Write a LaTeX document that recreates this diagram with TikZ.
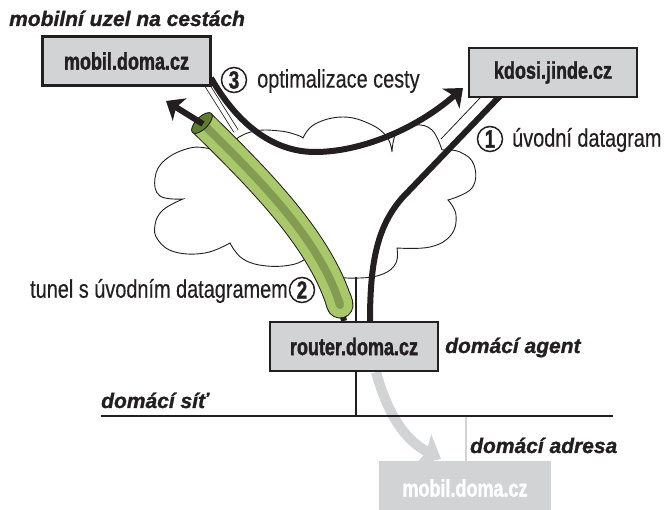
\documentclass[tikz,border=0pt]{standalone}
\usepackage{fontspec}
\usetikzlibrary{arrows.meta}
\setmainfont{Liberation Sans}
\newfontfamily\condfont{Liberation Sans}[FakeStretch=0.78,FakeBold=0.3]
\newfontfamily\heavyfont{Liberation Sans}[FakeStretch=0.75,FakeBold=1.5]
\newfontfamily\titlefont{Liberation Sans}[FakeBold=1.2]
\definecolor{boxgray}{HTML}{D1D3D4}
\definecolor{ink}{HTML}{231F20}
\definecolor{tubelight}{HTML}{A8C86A}
\definecolor{tubedark}{HTML}{839C52}
\definecolor{tubehole}{HTML}{5E7F2A}
\tikzset{
  hostbox/.style={draw=ink, line width=2.2, fill=boxgray, minimum width=168, minimum height=49, inner sep=0, text=ink, font=\heavyfont\bfseries\fontsize{24}{24}\selectfont},
  ghostbox/.style={fill=boxgray, minimum width=172, minimum height=54, inner sep=0, text=white, font=\heavyfont\bfseries\fontsize{24}{24}\selectfont},
  titletext/.style={font=\titlefont\bfseries\itshape\fontsize{21}{21}\selectfont, text=ink, inner sep=0, anchor=base west},
  lbl/.style={font=\condfont\fontsize{25.5}{25.5}\selectfont, text=ink, inner sep=0},
  numc/.style={circle, draw=ink, line width=1.5, minimum size=25, inner sep=0, font=\heavyfont\bfseries\fontsize{25}{25}\selectfont, text=ink},
  thickline/.style={draw=ink, line width=6},
  thinline/.style={draw=ink, line width=0.8},
  cloudline/.style={draw=ink, line width=0.9, fill=white},
  bigarrow/.style={-{Stealth[length=16pt, width=26pt, inset=4pt]}},
}
\begin{document}
\begin{tikzpicture}[x=1pt,y=-1pt]
\useasboundingbox (0,0) rectangle (664,510);

% cloud
\draw[cloudline]
  plot[smooth, tension=0.7] coordinates {(183,199) (160,196) (155,178) (165,160) (190,148) (212,149) (228,153)}
  -- plot[smooth, tension=0.7] coordinates {(228,153) (235,140) (255,131) (280,131) (297,135) (303,138)}
  -- plot[smooth, tension=0.7] coordinates {(303,138) (315,124) (343,117) (370,124) (387,137) (392,152)}
  -- plot[smooth, tension=0.7] coordinates {(392,152) (397,132) (415,125) (432,130) (442,150)}
  -- plot[smooth, tension=0.7] coordinates {(442,150) (460,152) (474,165) (472,188) (448,200)}
  -- plot[smooth, tension=0.7] coordinates {(448,200) (456,215) (451,235) (430,247) (397,248)}
  -- plot[smooth, tension=0.7] coordinates {(397,248) (396,263) (383,274) (360,278) (335,276) (318,266) (310,255)}
  -- plot[smooth, tension=0.7] coordinates {(310,255) (295,264) (267,266) (243,259) (230,243)}
  -- plot[smooth, tension=0.7] coordinates {(230,243) (205,253) (175,252) (158,240) (155,225) (163,210) (183,199)}
  -- cycle;

% hosts
\node[hostbox] (mobil) at (126.5,61) {mobil.doma.cz};
\node[hostbox] (kdosi) at (553,72.5) {kdosi.jinde.cz};
\node[hostbox] (router) at (354,346.5) {router.doma.cz};

% attachment coordinates
\coordinate (mlinkA) at (207,85);
\coordinate (mlinkB) at (236,131);
\coordinate (klinkA) at (480,98);
\coordinate (klinkB) at (441,139);
\coordinate (rcloud) at (356,277);
\coordinate (netL) at (101,416);
\coordinate (netR) at (613,416);
\coordinate (netR1) at (356,416);
\coordinate (netG) at (466,417);

% gray arrow to ghost
\node[ghostbox] (ghost) at (465,488) {mobil.doma.cz};
\draw[boxgray, line width=1.5] (netG) -- (466,0 |- ghost.north);
\draw[boxgray, line width=10, -{Stealth[length=20pt, width=34pt, inset=4pt]}]
  (376,0 |- router.south) .. controls (388,415) and (405,440) .. (441,459);

% links
\draw[thinline, double=white, double distance=4] (mlinkA) -- (mlinkB);
\draw[thinline] (klinkA) -- (klinkB);
\draw[ink, line width=1.3] (rcloud) -- (356,0 |- router.north);
\draw[ink, line width=1.5] (356,0 |- router.south) -- (netR1);
\draw[ink, line width=2.2] (netL) -- (netR);

% path 1
\draw[thickline] (370,0 |- router.north) .. controls (370,260) and (378,225) .. (403,197) -- (500,96);

% path 2: tunnel
\draw[thickline] (344,0 |- router.north) -- (339,300);
\draw[ink, line width=27] (202,123) .. controls (260,180) and (320,240) .. (340,305);
\draw[ink, line width=27, line cap=round] (338.5,300) -- (340,305);
\draw[tubelight, line width=25] (202,123) .. controls (260,180) and (320,240) .. (340,305);
\draw[tubelight, line width=25, line cap=round] (338.5,300) -- (340,305);
\draw[tubedark, line width=8] (202,123) .. controls (260,180) and (320,240) .. (340,305);
\draw[tubedark, line width=8, line cap=round] (338.5,300) -- (340,305);
\draw[draw=ink, line width=0.9, fill=tubehole, shift={(202,123)}, rotate=45] (0,0) ellipse (13.5 and 6);
\draw[thickline, bigarrow] (203,124) -- (166,101);

% path 3: optimisation
\draw[thickline, bigarrow] (211,78) .. controls (235,120) and (270,152) .. (315,152) .. controls (360,152) and (415,130) .. (463,88);

% redraw boxes on top
\node[hostbox] at (mobil) {mobil.doma.cz};
\node[hostbox] at (kdosi) {kdosi.jinde.cz};
\node[hostbox] at (router) {router.doma.cz};

% labels
\node[numc] (n3) at (234,80) {3};
\node[lbl, anchor=west] (t3) at (257,81) {optimalizace cesty};
\node[numc] (n1) at (490,139) {1};
\node[lbl, anchor=west] (t1) at (512,140) {úvodní datagram};
\node[numc] (n2) at (302,290) {2};
\node[lbl, anchor=east] (t2) at (288,291) {tunel s úvodním datagramem};

\node[titletext] (ttl) at (9,26) {mobilní uzel na cestách};
\node[titletext] (agent) at (445,353) {domácí agent};
\node[titletext] (sit) at (101,408) {domácí síť};
\node[titletext] (adr) at (470,453) {domácí adresa};
\end{tikzpicture}
\end{document}
